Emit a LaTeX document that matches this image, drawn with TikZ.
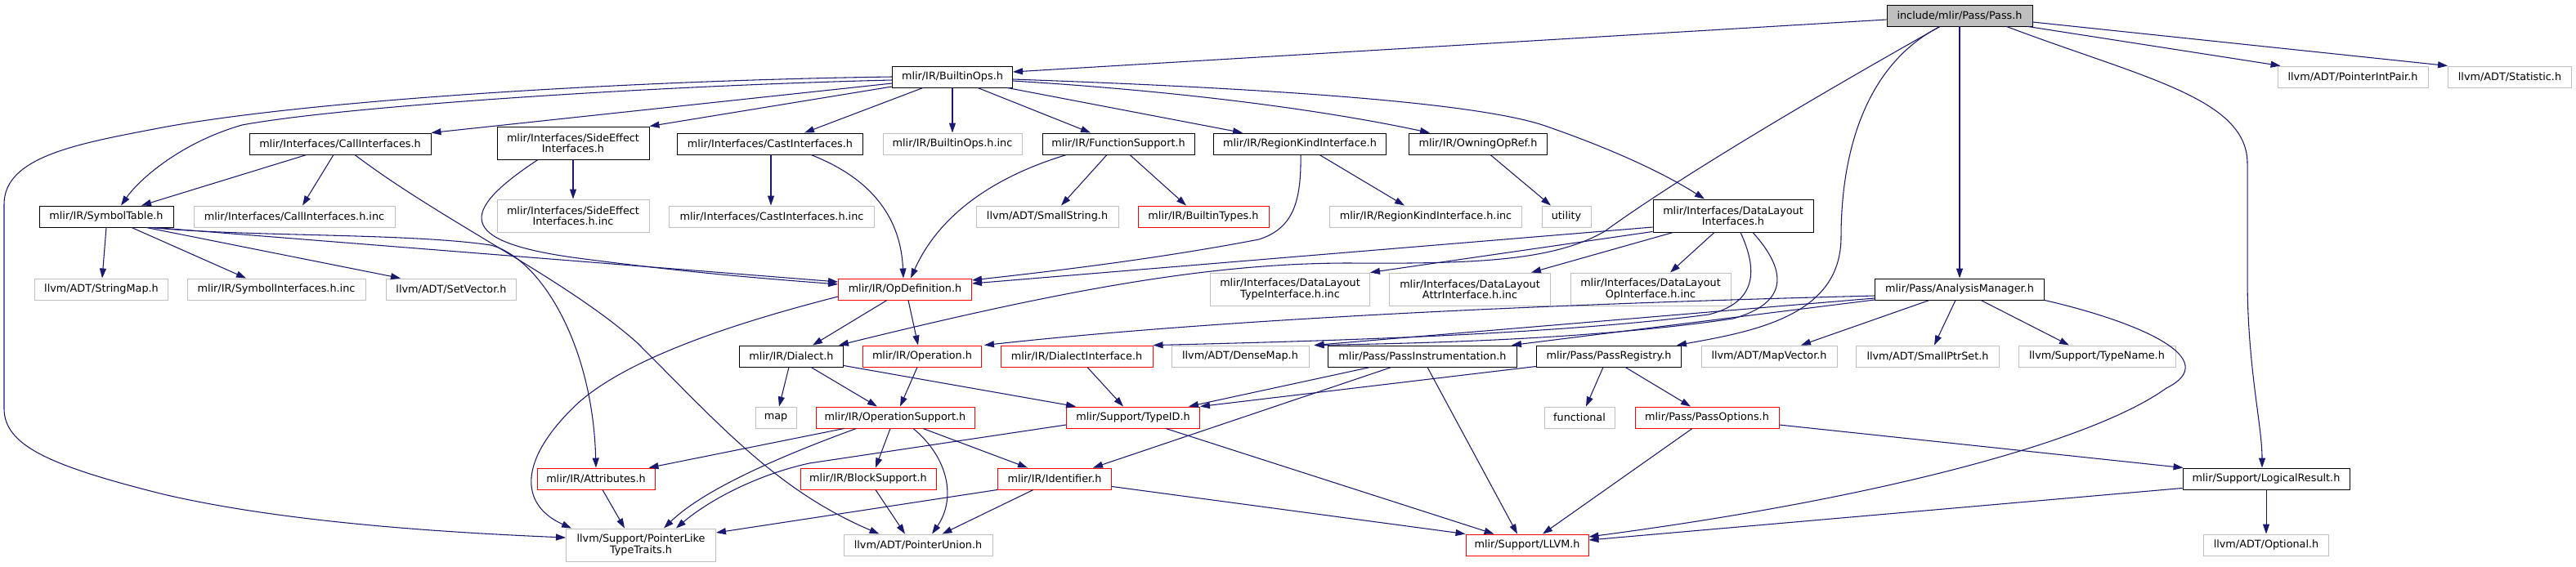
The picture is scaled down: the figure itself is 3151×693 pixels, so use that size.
\documentclass[tikz,border=0pt]{standalone}
\usepackage{fontspec}
\newfontfamily\dvs{DejaVu Sans}
\usetikzlibrary{calc,arrows.meta}
\definecolor{edgec}{RGB}{25,25,112}
\definecolor{grayb}{RGB}{191,191,191}
\definecolor{redb}{RGB}{255,0,0}
\definecolor{grayf}{RGB}{191,191,191}
\tikzset{
  base/.style={rectangle, inner sep=0pt, minimum height=19.5pt, align=center, text=black, font=\dvs\fontsize{9.6}{10}\selectfont},
  doc/.style={base, draw=black, line width=0.7pt},
  ext/.style={base, draw=grayb, line width=0.7pt},
  trunc/.style={base, draw=redb, line width=0.7pt},
  rootn/.style={base, draw=black, fill=grayf, line width=0.7pt},
  two/.style={minimum height=30pt},
  w/.style={minimum width=#1*0.75pt},
  edge/.style={draw=edgec, line width=0.8pt, -{Triangle[length=9pt,width=6pt]}},
}
\begin{document}
\begin{tikzpicture}[x=0.75pt,y=-0.75pt]
\useasboundingbox (0,0) rectangle (3151,693);
% ---------- nodes ----------
\node[rootn,w=178] (pass) at (2397,19) {include/mlir/Pass/Pass.h};
\node[doc,w=147] (builtinops) at (1165,94) {mlir/IR/BuiltinOps.h};
\node[ext,w=184] (pointerintpair) at (2878,94) {llvm/ADT/PointerIntPair.h};
\node[ext,w=151] (statistic) at (3070,94) {llvm/ADT/Statistic.h};
\node[doc,w=222] (callif) at (416,176) {mlir/Interfaces/CallInterfaces.h};
\node[doc,w=186,two] (sideeffect) at (701,175) {mlir/Interfaces/SideEffect\\Interfaces.h};
\node[doc,w=227] (castif) at (942,176) {mlir/Interfaces/CastInterfaces.h};
\node[ext,w=170] (builtinopsinc) at (1165,176) {mlir/IR/BuiltinOps.h.inc};
\node[doc,w=186] (funcsupport) at (1368,176) {mlir/IR/FunctionSupport.h};
\node[doc,w=211] (regionkind) at (1590,176) {mlir/IR/RegionKindInterface.h};
\node[doc,w=169] (owningop) at (1808,176) {mlir/IR/OwningOpRef.h};
\node[doc,w=164] (symtab) at (130,265) {mlir/IR/SymbolTable.h};
\node[ext,w=246] (callifinc) at (360,265) {mlir/Interfaces/CallInterfaces.h.inc};
\node[ext,w=186,two] (sideeffectinc) at (701,264) {mlir/Interfaces/SideEffect\\Interfaces.h.inc};
\node[ext,w=251] (castifinc) at (944,265) {mlir/Interfaces/CastInterfaces.h.inc};
\node[ext,w=174] (smallstring) at (1281,265) {llvm/ADT/SmallString.h};
\node[trunc,w=160] (builtintypes) at (1472,265) {mlir/IR/BuiltinTypes.h};
\node[ext,w=235] (regionkindinc) at (1744,265) {mlir/IR/RegionKindInterface.h.inc};
\node[ext,w=60] (utility) at (1916,265) {utility};
\node[doc,w=196,two] (datalayout) at (2120,264) {mlir/Interfaces/DataLayout\\Interfaces.h};
\node[ext,w=163] (stringmap) at (124,354) {llvm/ADT/StringMap.h};
\node[ext,w=218] (symifinc) at (338,354) {mlir/IR/SymbolInterfaces.h.inc};
\node[ext,w=159] (setvector) at (552,354) {llvm/ADT/SetVector.h};
\node[trunc,w=163] (opdef) at (1107,354) {mlir/IR/OpDefinition.h};
\node[ext,w=195,two] (typeinc) at (1578,354) {mlir/Interfaces/DataLayout\\TypeInterface.h.inc};
\node[ext,w=197,two] (attrinc) at (1798,354) {mlir/Interfaces/DataLayout\\AttrInterface.h.inc};
\node[ext,w=196,two] (opinc) at (2019,354) {mlir/Interfaces/DataLayout\\OpInterface.h.inc};
\node[doc,w=207] (analysis) at (2397,354) {mlir/Pass/AnalysisManager.h};
\node[doc,w=127] (dialect) at (968,436) {mlir/IR/Dialect.h};
\node[trunc,w=145] (operation) at (1128,436) {mlir/IR/Operation.h};
\node[trunc,w=186] (dialectif) at (1317,436) {mlir/IR/DialectInterface.h};
\node[ext,w=168] (densemap) at (1517,436) {llvm/ADT/DenseMap.h};
\node[doc,w=231] (passinstr) at (1740,436) {mlir/Pass/PassInstrumentation.h};
\node[doc,w=177] (passreg) at (1968,436) {mlir/Pass/PassRegistry.h};
\node[ext,w=166] (mapvector) at (2164,436) {llvm/ADT/MapVector.h};
\node[ext,w=175] (smallptrset) at (2358,436) {llvm/ADT/SmallPtrSet.h};
\node[ext,w=192] (typename) at (2565,436) {llvm/Support/TypeName.h};
\node[ext,w=50] (map) at (949,511) {map};
\node[trunc,w=194] (opsupport) at (1095,511) {mlir/IR/OperationSupport.h};
\node[trunc,w=163] (typeid) at (1386,511) {mlir/Support/TypeID.h};
\node[ext,w=86] (functional) at (1932,511) {functional};
\node[trunc,w=176] (passoptions) at (2088,511) {mlir/Pass/PassOptions.h};
\node[trunc,w=144] (attributes) at (729,586) {mlir/IR/Attributes.h};
\node[trunc,w=166] (blocksupport) at (1062,586) {mlir/IR/BlockSupport.h};
\node[trunc,w=139] (identifier) at (1290,586) {mlir/IR/Identifier.h};
\node[doc,w=204] (logicalresult) at (2772,586) {mlir/Support/LogicalResult.h};
\node[ext,w=183,two] (pointerlike) at (784,667) {llvm/Support/PointerLike\\TypeTraits.h};
\node[ext,w=182] (pointerunion) at (1123,667) {llvm/ADT/PointerUnion.h};
\node[trunc,w=150] (llvm) at (1868,667) {mlir/Support/LLVM.h};
\node[ext,w=153] (optional) at (2772,667) {llvm/ADT/Optional.h};
% ---------- edges: Pass.h ----------
\draw[edge] ($(pass.west)+(0,5)$) -- ($(builtinops.east)+(0,-6)$);
\draw[edge] ($(pass.south)+(-24,0)$) .. controls (2200,130) and (2050,220) .. (1963,283) .. controls (1900,320) and (1800,323) .. (1650,322) .. controls (1480,322) and (1300,355) .. ($(dialect.north east)+(-6,0)$);
\draw[edge] (pass.south) -- (analysis.north);
\draw[edge] ($(pass.south)+(-24,0)$) .. controls (2280,80) and (2252,190) .. (2252,290) .. controls (2252,385) and (2150,405) .. ($(passreg.north east)+(-6,0)$);
\draw[edge] ($(pass.south east)+(-32,0)$) .. controls (2620,95) and (2749,120) .. (2749,200) -- (2749,340) .. controls (2749,450) and (2767,520) .. ($(logicalresult.north)+(-5,0)$);
\draw[edge] ($(pass.south east)+(-6,0)$) -- ($(pointerintpair.north west)+(4,0)$);
\draw[edge] ($(pass.east)+(0,8)$) -- (statistic.north west);
% ---------- BuiltinOps.h ----------
\draw[edge] (builtinops.west) .. controls (800,98) and (400,120) .. (204,155) .. controls (100,175) and (5,190) .. (5,250) -- (5,500) .. controls (5,545) and (60,570) .. (200,605) .. controls (350,640) and (550,652) .. ($(pointerlike.west)+(0,-9)$);
\draw[edge] ($(builtinops.west)+(0,4)$) .. controls (800,105) and (420,130) .. (296,153) .. controls (220,175) and (170,220) .. ($(symtab.north)+(18,0)$);
\draw[edge] ($(builtinops.west)+(0,8)$) -- (callif.north east);
\draw[edge] ($(builtinops.west)+(0,12)$) -- (sideeffect.north east);
\draw[edge] ($(builtinops.south west)+(38,0)$) -- ($(castif.north)+(42,0)$);
\draw[edge] (builtinops.south) -- (builtinopsinc.north);
\draw[edge] ($(builtinops.south)+(31,0)$) -- ($(funcsupport.north)+(-34,0)$);
\draw[edge] ($(builtinops.south east)+(-7,0)$) -- ($(regionkind.north)+(-70,0)$);
\draw[edge] ($(builtinops.east)+(0,5)$) .. controls (1450,112) and (1620,135) .. ($(owningop.north)+(-59,0)$);
\draw[edge] ($(builtinops.east)+(0,3)$) .. controls (1550,108) and (1800,125) .. (1887,153) .. controls (1980,185) and (2040,215) .. ($(datalayout.north)+(-35,0)$);
% ---------- interfaces ----------
\draw[edge] ($(callif.south)+(-41,0)$) -- ($(symtab.north)+(43,0)$);
\draw[edge] ($(callif.south)+(-8,0)$) -- ($(callifinc.north)+(10,0)$);
\draw[edge] ($(callif.south)+(18,0)$) .. controls (540,270) and (690,340) .. (780,420) .. controls (880,520) and (950,600) .. ($(pointerunion.north west)+(44,0)$);
\draw[edge] (sideeffect.south) -- (sideeffectinc.north);
\draw[edge] ($(sideeffect.south)+(-43,0)$) .. controls (560,260) and (560,295) .. (700,315) .. controls (850,335) and (950,342) .. ($(opdef.west)+(0,-6)$);
\draw[edge] ($(castif.south)+(1,0)$) -- ($(castifinc.north)+(-1,0)$);
\draw[edge] ($(castif.south)+(50,0)$) .. controls (1070,220) and (1102,270) .. ($(opdef.north)+(-2,0)$);
\draw[edge] ($(funcsupport.south west)+(30,0)$) .. controls (1220,215) and (1150,260) .. ($(opdef.north)+(7,0)$);
\draw[edge] ($(funcsupport.south)+(-14,0)$) -- ($(smallstring.north)+(17,0)$);
\draw[edge] ($(funcsupport.south)+(14,0)$) -- ($(builtintypes.north)+(-21,0)$);
\draw[edge] ($(regionkind.south)+(1,0)$) .. controls (1592,250) and (1580,280) .. (1540,293) .. controls (1400,320) and (1250,336) .. ($(opdef.east)+(0,-11)$);
\draw[edge] ($(regionkind.south)+(24,0)$) -- ($(regionkindinc.north)+(-26,0)$);
\draw[edge] ($(owningop.south)+(15,0)$) -- ($(utility.north)+(-19,0)$);
% ---------- SymbolTable.h ----------
\draw[edge] (symtab.south) -- ($(stringmap.north)+(1,0)$);
\draw[edge] ($(symtab.south)+(31,0)$) -- ($(symifinc.north)+(-37,0)$);
\draw[edge] ($(symtab.south)+(49,0)$) -- ($(setvector.north)+(-62,0)$);
\draw[edge] ($(symtab.south)+(59,0)$) -- ($(opdef.west)+(0,-9)$);
\draw[edge] ($(symtab.south)+(54,0)$) .. controls (300,290) and (500,285) .. (600,300) .. controls (660,315) and (725,420) .. (attributes.north);
% ---------- DataLayoutInterfaces.h ----------
\draw[edge] ($(datalayout.west)+(0,14)$) -- ($(opdef.east)+(0,-7)$);
\draw[edge] ($(datalayout.south west)+(0,-1)$) -- (typeinc.north east);
\draw[edge] ($(datalayout.south west)+(25,0)$) -- ($(attrinc.north east)+(-24,0)$);
\draw[edge] ($(datalayout.south)+(-23,0)$) -- ($(opinc.north)+(24,0)$);
\draw[edge] ($(datalayout.south)+(9,0)$) .. controls (2150,330) and (2150,370) .. (2090,385) .. controls (1900,410) and (1600,418) .. (dialectif.north east);
\draw[edge] ($(datalayout.south)+(24,0)$) .. controls (2185,330) and (2190,370) .. (2120,390) .. controls (1950,415) and (1750,420) .. ($(densemap.north east)+(6,0)$);
% ---------- OpDefinition.h ----------
\draw[edge] ($(opdef.south)+(-22,0)$) -- ($(dialect.north)+(26,0)$);
\draw[edge] ($(opdef.south)+(4,0)$) -- ($(operation.north)+(-5,0)$);
\draw[edge] ($(opdef.west)+(0,9)$) .. controls (900,395) and (760,440) .. (700,500) .. controls (630,570) and (640,620) .. ($(pointerlike.north west)+(7,0)$);
% ---------- AnalysisManager.h ----------
\draw[edge] ($(analysis.west)+(0,8)$) .. controls (1900,372) and (1500,390) .. ($(operation.north east)+(3,0)$);
\draw[edge] ($(analysis.west)+(0,11)$) -- ($(densemap.north east)+(6,0)$);
\draw[edge] ($(analysis.west)+(0,13)$) -- ($(passinstr.north east)+(-7,0)$);
\draw[edge] ($(analysis.south west)+(67,0)$) -- ($(mapvector.north)+(39,0)$);
\draw[edge] ($(analysis.south)+(-5,0)$) -- ($(smallptrset.north)+(8,0)$);
\draw[edge] ($(analysis.south)+(26,0)$) -- ($(typename.north)+(-34,0)$);
\draw[edge] (analysis.south east) .. controls (2620,395) and (2720,440) .. (2650,475) .. controls (2560,540) and (2300,610) .. ($(llvm.east)+(0,-10)$);
% ---------- Dialect / Operation / DialectInterface ----------
\draw[edge] ($(dialect.south)+(-3,0)$) -- ($(map.north)+(4,0)$);
\draw[edge] ($(dialect.south)+(24,0)$) -- ($(opsupport.north)+(-22,0)$);
\draw[edge] ($(dialect.south east)+(0,-2)$) -- ($(typeid.north west)+(12,0)$);
\draw[edge] ($(operation.south)+(-6,0)$) -- ($(opsupport.north)+(6,0)$);
\draw[edge] ($(dialectif.south)+(13,0)$) -- ($(typeid.north)+(-12,0)$);
% ---------- Pass instrumentation / registry ----------
\draw[edge] ($(passinstr.south west)+(52,0)$) -- ($(typeid.north east)+(-14,0)$);
\draw[edge] ($(passinstr.south west)+(78,0)$) -- ($(identifier.north east)+(-23,0)$);
\draw[edge] ($(passinstr.south)+(6,0)$) -- ($(llvm.north)+(-12,0)$);
\draw[edge] ($(passreg.south west)+(0,-1)$) -- (typeid.north east);
\draw[edge] ($(passreg.south)+(-7,0)$) -- ($(functional.north)+(8,0)$);
\draw[edge] ($(passreg.south)+(20,0)$) -- ($(passoptions.north)+(-20,0)$);
% ---------- OperationSupport.h ----------
\draw[edge] ($(opsupport.south west)+(35,0)$) -- ($(attributes.north east)+(-8,0)$);
\draw[edge] ($(opsupport.south west)+(50,0)$) .. controls (950,560) and (860,600) .. ($(pointerlike.north east)+(-64,0)$);
\draw[edge] ($(opsupport.south)+(-6,0)$) -- ($(blocksupport.north)+(9,0)$);
\draw[edge] ($(opsupport.south)+(22,0)$) .. controls (1160,560) and (1170,610) .. ($(pointerunion.north)+(17,0)$);
\draw[edge] ($(opsupport.south)+(34,0)$) -- ($(identifier.north)+(-33,0)$);
% ---------- TypeID.h ----------
\draw[edge] ($(typeid.west)+(0,9)$) -- (990,567) .. controls (930,580) and (870,610) .. ($(pointerlike.north east)+(-49,0)$);
\draw[edge] ($(typeid.south east)+(-42,0)$) -- ($(llvm.north west)+(35,0)$);
% ---------- PassOptions.h ----------
\draw[edge] ($(passoptions.south)+(-18,0)$) -- ($(llvm.north)+(19,0)$);
\draw[edge] ($(passoptions.east)+(0,9)$) -- ($(logicalresult.north west)+(1,0)$);
% ---------- lower level ----------
\draw[edge] ($(attributes.south)+(8,0)$) -- ($(pointerlike.north west)+(72,0)$);
\draw[edge] ($(blocksupport.south)+(9,0)$) -- ($(pointerunion.north)+(-16,0)$);
\draw[edge] ($(identifier.south)+(-26,0)$) -- ($(pointerunion.north east)+(-62,0)$);
\draw[edge] (identifier.south west) -- ($(pointerlike.east)+(0,-15)$);
\draw[edge] ($(identifier.south east)+(0,-4)$) -- (llvm.north west);
\draw[edge] ($(logicalresult.south west)+(0,-2)$) -- ($(llvm.east)+(0,-6)$);
\draw[edge] (logicalresult.south) -- (optional.north);
\end{tikzpicture}
\end{document}
